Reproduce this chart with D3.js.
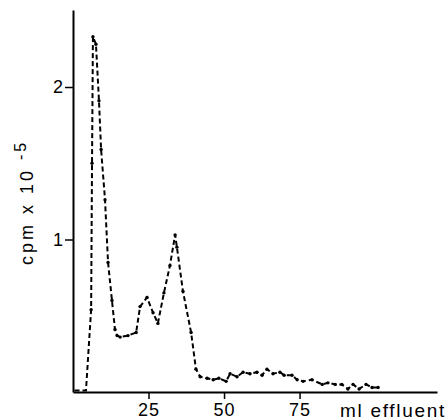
<!DOCTYPE html>
<html>
<head>
<meta charset="utf-8">
<script src="https://cdn.jsdelivr.net/npm/d3@7"></script>
<style>
  body { margin: 0; background: #fff; }
  svg text { font-family: "Liberation Sans", Arial, sans-serif; fill: #000; }
</style>
</head>
<body>
<svg width="447" height="420"></svg>
<script>
// effluent volume (ml) and counts (cpm x 10^-5)
var ml = [0.5, 2.5, 4.3, 6.0, 6.3, 6.6, 7.6, 8.6, 9.3, 10.6, 11.6, 12.9, 13.9, 14.6,
          15.6, 18.2, 20.9, 22.2, 24.5, 26.5, 28.1, 30.1, 32.1, 33.8, 34.4, 36.4,
          39.1, 40.7, 42.1, 44.4, 46.4, 48.3, 50.7, 52.0, 54.3, 56.3, 58.6, 60.9,
          62.6, 64.2, 66.2, 68.5, 69.9, 72.5, 74.2, 76.2, 79.1, 82.5, 84.4, 86.8,
          89.0, 91.0, 92.7, 94.7, 97.0, 99.0, 101.0];
var cpm = [0.01, 0.01, 0.01, 0.54, 1.50, 2.33, 2.28, 1.91, 1.59, 1.26, 0.85, 0.60, 0.41, 0.37,
           0.36, 0.37, 0.39, 0.56, 0.62, 0.52, 0.45, 0.65, 0.83, 1.03, 0.95, 0.66,
           0.39, 0.15, 0.10, 0.09, 0.08, 0.09, 0.07, 0.12, 0.10, 0.13, 0.12, 0.13,
           0.11, 0.15, 0.12, 0.13, 0.11, 0.11, 0.08, 0.07, 0.08, 0.05, 0.06, 0.05,
           0.05, 0.02, 0.05, 0.02, 0.05, 0.03, 0.03];
var xTicks = [25, 50, 75];
var yTicks = [1, 2];

var svg = d3.select("svg"),
    margin = {top: 10, left: 73},
    width = 364,
    height = 382,
    g = svg.append("g").attr("transform", "translate(" + margin.left + "," + margin.top + ")");

var data = ml.map(function(d, i) { return {ml: d, cpm: cpm[i]}; });

var x = d3.scaleLinear().domain([0, 120.5]).range([0, width]);
var y = d3.scaleLinear().domain([0, 2.505]).range([height, 0]);

var xAxis = g.append("g")
    .attr("transform", "translate(0," + height + ")")
    .call(d3.axisBottom(x).tickValues(xTicks).tickSize(7).tickSizeOuter(0).tickPadding(4));

var yAxis = g.append("g")
    .call(d3.axisLeft(y).tickValues(yTicks).tickFormat(d3.format("d"))
      .tickSize(8).tickSizeOuter(0).tickPadding(2));

[xAxis, yAxis].forEach(function(a) {
  a.select(".domain").attr("stroke", "#000").attr("stroke-width", 2);
  a.selectAll(".tick line").attr("stroke", "#000").attr("stroke-width", 1.5);
  a.selectAll(".tick text").attr("font-size", 18).attr("fill", "#000")
      .style("font-family", "'Liberation Sans', Arial, sans-serif");
});
xAxis.selectAll(".tick text").attr("letter-spacing", 1);

var line = d3.line()
    .x(function(d) { return x(d.ml); })
    .y(function(d) { return y(d.cpm); });

g.append("path")
    .datum(data)
    .attr("fill", "none")
    .attr("stroke", "#000")
    .attr("stroke-width", 2)
    .attr("stroke-dasharray", "5,3")
    .attr("d", line);

g.selectAll(".pt")
    .data(data.slice(3))
    .enter().append("circle")
    .attr("class", "pt")
    .attr("cx", function(d) { return x(d.ml); })
    .attr("cy", function(d) { return y(d.cpm); })
    .attr("r", 1.7)
    .attr("fill", "#000");

// axis titles
svg.append("text")
    .attr("x", 340)
    .attr("y", 417)
    .attr("font-size", 19)
    .attr("letter-spacing", 1.7)
    .text("ml effluent");

var ylab = svg.append("text")
    .attr("transform", "translate(33,265) rotate(-90)")
    .attr("font-size", 18)
    .attr("letter-spacing", 3);
ylab.append("tspan").text("cpm  x 10 ");
ylab.append("tspan").attr("dy", -7).attr("font-size", 16).text("-5");
</script>
</body>
</html>
